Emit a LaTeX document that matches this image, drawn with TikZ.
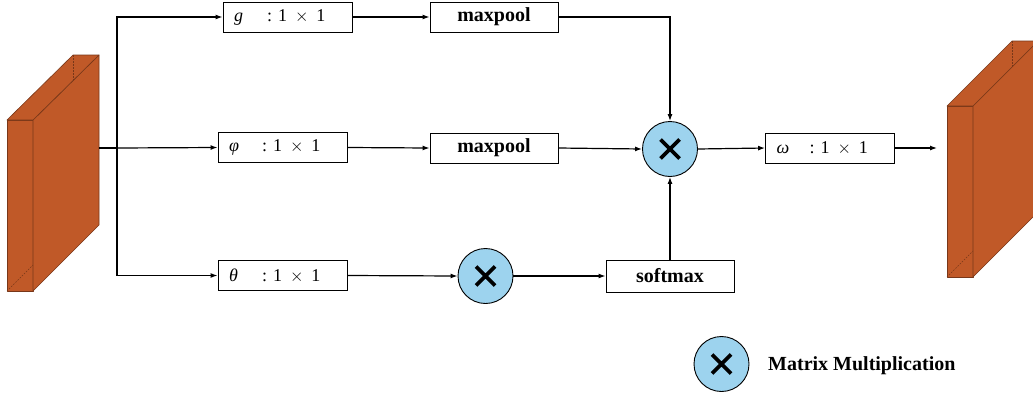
\documentclass[tikz,border=0pt]{standalone}
\usepackage{fontspec}
\setmainfont{Liberation Serif}
\usetikzlibrary{arrows.meta}
\definecolor{cubefill}{RGB}{192,89,40}
\definecolor{cubeedge}{RGB}{120,55,25}
\definecolor{multblue}{RGB}{157,211,238}
\tikzset{
  convbox/.style={draw, line width=0.9pt, minimum width=129pt, minimum height=30pt, inner xsep=0pt, inner ysep=0pt, font=\fontsize{18}{20}\selectfont},
  opbox/.style={draw, line width=0.9pt, minimum width=128pt, minimum height=30pt, inner sep=0pt, font=\fontsize{20}{22}\selectfont\bfseries},
  mult/.style={circle, draw, line width=0.9pt, fill=multblue, minimum size=55pt, inner sep=0pt,
    path picture={\draw[line width=3.8pt]
      ([shift={(-9.5,-9.5)}]path picture bounding box.center) -- ([shift={(9.5,9.5)}]path picture bounding box.center)
      ([shift={(-9.5,9.5)}]path picture bounding box.center) -- ([shift={(9.5,-9.5)}]path picture bounding box.center);}},
  conn/.style={line width=1.2pt, -{Latex[length=7pt,width=5pt]}},
  plain/.style={line width=1.2pt},
  cube/.style={fill=cubefill, draw=cubeedge, line width=0.6pt, line join=round},
  hidden/.style={draw=cubeedge, line width=0.6pt, dashed, dash pattern=on 1.5pt off 1.5pt},
}
\newcommand{\convtext}[1]{\makebox[129pt][l]{\hspace{11pt}\makebox[33pt][l]{#1}:\hspace{6pt}1\hspace{8pt}$\times$\hspace{8pt}1}}
\begin{document}
\begin{tikzpicture}[x=1pt,y=-1pt]
\clip (0,0) rectangle (1033,394);
% left cuboid
\path[cube] (7,120) -- (33,120) -- (33,291) -- (7,291) -- cycle;
\path[cube] (33,120) -- (99,55) -- (99,225) -- (33,291) -- cycle;
\path[cube] (7,120) -- (73,55) -- (99,55) -- (33,120) -- cycle;
\draw[hidden] (73,55) -- (73,80);
\draw[hidden] (7,291) -- (33,265);
\coordinate (inR) at (99,148);
% right cuboid
\path[cube] (947,106) -- (973,106) -- (973,277) -- (947,277) -- cycle;
\path[cube] (973,106) -- (1038,41) -- (1038,212) -- (973,277) -- cycle;
\path[cube] (947,106) -- (1012,41) -- (1038,41) -- (973,106) -- cycle;
\draw[hidden] (1012,41) -- (1012,68);
\draw[hidden] (947,277) -- (973,251);
\coordinate (outL) at (937,148);
% nodes
\node[convbox] (g) at (287.5,17) {\convtext{\textit{g}}};
\node[opbox] (mp1) at (494,17) {maxpool};
\node[convbox] (phi) at (282.5,147.5) {\convtext{\textit{φ}}};
\node[opbox] (mp2) at (494,148) {maxpool};
\node[convbox] (theta) at (282.5,275.5) {\convtext{\textit{θ}}};
\node[mult] (m1) at (485.5,276) {};
\node[opbox, minimum height=32pt] (soft) at (670,276) {softmax};
\node[mult] (m2) at (670,149) {};
\node[convbox, minimum width=128pt] (omega) at (830,148) {\convtext{\textit{ω}}};
\node[mult] (leg) at (721.5,364) {};
\node[anchor=west, inner sep=0pt, font=\fontsize{20}{22}\selectfont\bfseries] (legtext) at (768,366) {Matrix Multiplication};
% connectors
\coordinate (j) at (117,148);
\draw[plain] (inR) -- (j);
\draw[conn] (j) |- (g.west);
\draw[conn] (j) -- (phi.west);
\draw[conn] (j) |- (theta.west);
\draw[conn] (g.east) -- (mp1.west);
\draw[conn] (phi.east) -- (mp2.west);
\draw[conn] (mp1.east) -| (m2.north);
\draw[conn] (mp2.east) -- (m2.west);
\draw[conn] (theta.east) -- (m1.west);
\draw[conn] (m1.east) -- (soft.west);
\draw[conn] (soft.north) -- (m2.south);
\draw[conn] (m2.east) -- (omega.west);
\draw[conn] (omega.east) -- (outL);
\end{tikzpicture}
\end{document}
